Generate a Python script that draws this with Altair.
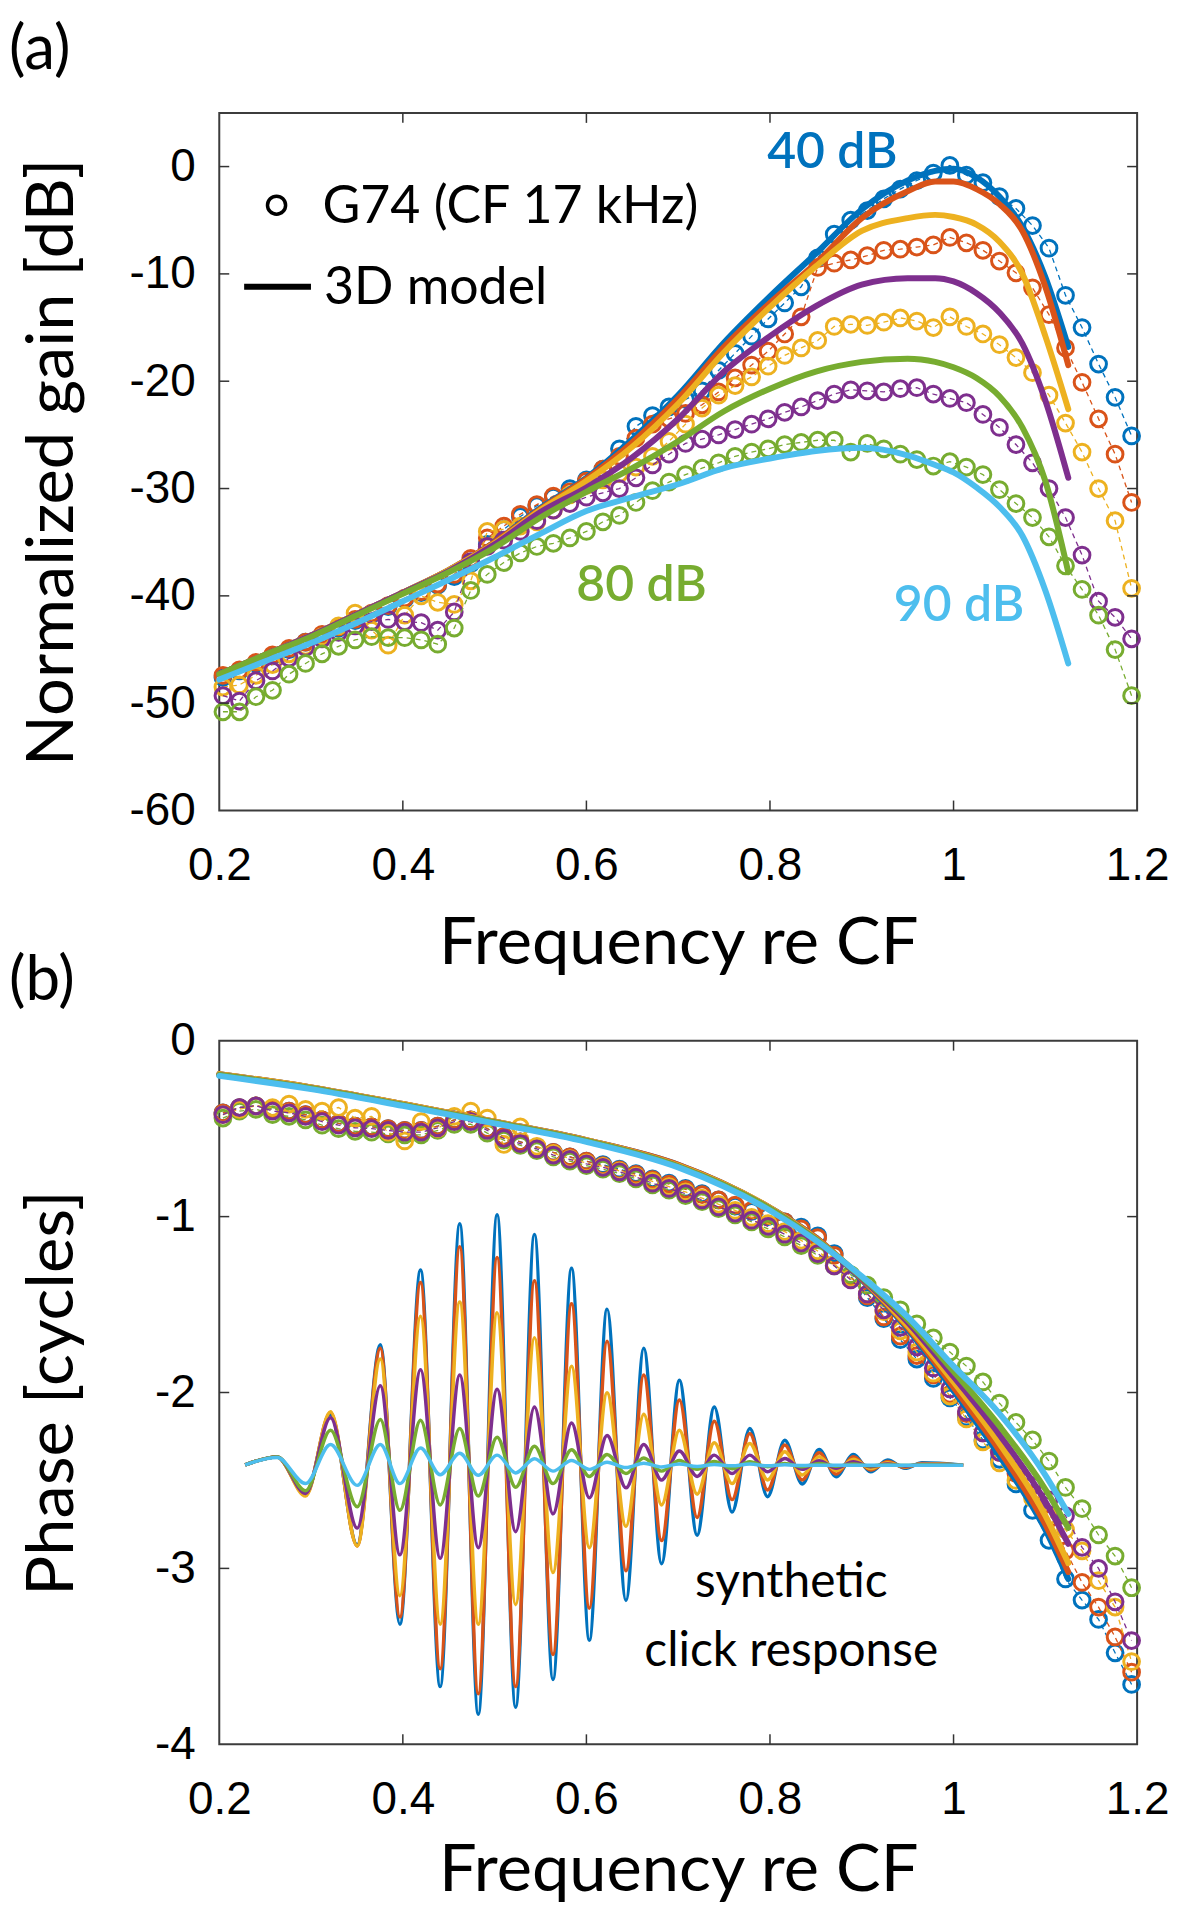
import altair as alt
import pandas as pd

# ---------------- colours (MATLAB default order) ----------------
BLUE, ORANGE, YELLOW, PURPLE, GREEN, CYAN = "#0072BD", "#D95319", "#EDB120", "#7E2F8E", "#77AC30", "#4DBEEE"

# ---------------- measured data (circles) ----------------
FREQ = [0.204, 0.222, 0.240, 0.258, 0.276, 0.294, 0.312, 0.330, 0.348, 0.366, 0.384, 0.402, 0.420, 0.438,
        0.456, 0.474, 0.492, 0.510, 0.528, 0.546, 0.564, 0.582, 0.600, 0.618, 0.636, 0.654, 0.672, 0.690,
        0.708, 0.726, 0.744, 0.762, 0.780, 0.798, 0.816, 0.834, 0.852, 0.870, 0.888, 0.906, 0.924, 0.942,
        0.960, 0.978, 0.996, 1.014, 1.032, 1.050, 1.068, 1.086, 1.104, 1.122, 1.140, 1.158, 1.176, 1.194]

GAIN_40 = [-47.6, -47.0, -46.3, -45.6, -45.0, -44.3, -43.7, -43.0, -42.3, -41.7, -41.0, -40.3, -39.7, -39.0, -38.2,
           -37.0, -35.2, -33.8, -32.6, -31.6, -30.8, -30.0, -29.2, -28.2, -26.3, -24.2, -23.2, -22.4, -21.7, -20.9,
           -19.0, -17.4, -15.8, -14.2, -12.7, -11.2, -8.5, -6.3, -5.0, -4.1, -3.0, -2.1, -1.3, -0.6, 0.1,
           -0.8, -1.5, -2.8, -3.9, -5.5, -7.6, -12.0, -15.0, -18.4, -21.5, -25.1]
GAIN_50 = [-47.4, -46.9, -46.2, -45.5, -44.9, -44.3, -43.6, -42.9, -42.2, -41.6, -40.9, -40.2, -39.6, -38.9, -38.0,
           -36.5, -34.6, -33.5, -32.4, -31.5, -30.7, -30.3, -29.3, -28.2, -27.0, -25.3, -24.0, -23.5, -23.0, -22.2,
           -21.0, -19.7, -18.5, -17.2, -15.6, -14.0, -9.4, -9.0, -8.7, -8.3, -7.8, -7.7, -7.5, -7.3, -6.6,
           -7.1, -7.8, -8.8, -9.9, -11.3, -13.8, -16.9, -20.1, -23.5, -26.8, -31.3]
GAIN_60 = [-48.5, -48.3, -47.4, -46.4, -45.4, -44.7, -43.8, -42.8, -41.6, -43.2, -44.6, -41.8, -40.0, -40.6, -40.8,
           -38.6, -34.0, -33.8, -33.5, -33.1, -32.0, -30.6, -29.7, -29.2, -28.6, -28.0, -27.0, -25.6, -24.0, -22.5,
           -21.3, -20.4, -19.6, -18.6, -17.6, -16.9, -16.2, -14.9, -14.7, -14.8, -14.5, -14.1, -14.4, -15.0, -14.0,
           -14.9, -15.6, -16.6, -17.8, -19.2, -21.3, -23.9, -26.6, -30.0, -33.0, -39.3]
GAIN_70 = [-49.3, -49.8, -47.9, -47.0, -45.8, -44.8, -44.0, -43.4, -42.8, -42.4, -42.2, -42.4, -42.5, -43.2, -41.5,
           -36.8, -35.4, -34.8, -34.0, -33.0, -32.0, -31.4, -30.8, -30.4, -30.0, -29.0, -27.8, -26.8, -25.8, -25.4,
           -25.0, -24.5, -24.0, -23.5, -22.9, -22.4, -21.8, -21.2, -20.8, -20.9, -21.0, -20.7, -20.6, -21.2, -21.6,
           -22.0, -23.1, -24.3, -25.9, -27.6, -30.0, -32.7, -36.2, -40.5, -42.0, -44.0]
GAIN_80 = [-50.8, -50.8, -49.4, -48.8, -47.3, -46.3, -45.4, -44.7, -44.1, -43.8, -43.9, -43.9, -44.1, -44.5, -43.0,
           -39.5, -38.0, -36.9, -36.0, -35.4, -35.1, -34.6, -34.0, -33.1, -32.5, -31.3, -30.2, -29.4, -28.7, -28.1,
           -27.6, -27.0, -26.6, -26.3, -25.9, -25.7, -25.5, -25.5, -26.6, -25.8, -26.3, -26.8, -27.3, -27.9, -27.5,
           -28.0, -28.7, -30.1, -31.4, -32.7, -34.5, -37.2, -39.4, -41.8, -45.0, -49.3]

PHASE_40 = [-0.41, -0.38, -0.37, -0.39, -0.40, -0.42, -0.45, -0.47, -0.485, -0.49, -0.50, -0.51, -0.51, -0.485, -0.45,
            -0.45, -0.50, -0.545, -0.575, -0.605, -0.635, -0.66, -0.685, -0.705, -0.73, -0.755, -0.785, -0.81, -0.84, -0.87,
            -0.905, -0.94, -0.97, -1.00, -1.03, -1.06, -1.11, -1.21, -1.34, -1.46, -1.58, -1.70, -1.81, -1.92, -2.03,
            -2.14, -2.27, -2.38, -2.52, -2.67, -2.84, -3.06, -3.18, -3.29, -3.48, -3.66]
PHASE_50 = [-0.41, -0.38, -0.37, -0.39, -0.40, -0.42, -0.45, -0.47, -0.485, -0.49, -0.50, -0.51, -0.51, -0.485, -0.45,
            -0.45, -0.50, -0.545, -0.575, -0.605, -0.635, -0.66, -0.685, -0.71, -0.735, -0.76, -0.79, -0.815, -0.845, -0.875,
            -0.905, -0.935, -0.965, -0.995, -1.03, -1.07, -1.12, -1.22, -1.34, -1.45, -1.57, -1.68, -1.79, -1.90, -2.01,
            -2.12, -2.23, -2.34, -2.46, -2.58, -2.72, -2.90, -3.08, -3.22, -3.39, -3.59]
PHASE_60 = [-0.42, -0.39, -0.37, -0.38, -0.36, -0.39, -0.40, -0.38, -0.44, -0.43, -0.52, -0.57, -0.46, -0.50, -0.43,
            -0.40, -0.44, -0.59, -0.49, -0.60, -0.64, -0.67, -0.695, -0.715, -0.74, -0.77, -0.80, -0.83, -0.86, -0.895,
            -0.93, -0.965, -1.005, -1.04, -1.085, -1.135, -1.195, -1.27, -1.35, -1.44, -1.54, -1.65, -1.77, -1.89, -2.02,
            -2.15, -2.28, -2.40, -2.50, -2.60, -2.70, -2.78, -2.90, -3.07, -3.22, -3.53]
PHASE_70 = [-0.42, -0.38, -0.37, -0.40, -0.41, -0.43, -0.46, -0.48, -0.495, -0.50, -0.51, -0.52, -0.52, -0.495, -0.46,
            -0.46, -0.51, -0.555, -0.585, -0.615, -0.65, -0.675, -0.70, -0.72, -0.745, -0.775, -0.81, -0.84, -0.87, -0.905,
            -0.945, -0.98, -1.02, -1.055, -1.10, -1.15, -1.21, -1.28, -1.36, -1.44, -1.53, -1.63, -1.74, -1.86, -1.98,
            -2.11, -2.23, -2.34, -2.44, -2.53, -2.61, -2.70, -2.88, -3.00, -3.19, -3.41]
PHASE_80 = [-0.44, -0.40, -0.39, -0.42, -0.43, -0.45, -0.48, -0.50, -0.515, -0.52, -0.53, -0.535, -0.535, -0.51, -0.475,
            -0.475, -0.525, -0.565, -0.595, -0.625, -0.66, -0.685, -0.71, -0.73, -0.755, -0.785, -0.82, -0.85, -0.88, -0.915,
            -0.955, -0.99, -1.03, -1.07, -1.115, -1.165, -1.22, -1.28, -1.33, -1.39, -1.46, -1.53, -1.61, -1.69, -1.77,
            -1.85, -1.94, -2.06, -2.17, -2.27, -2.39, -2.54, -2.66, -2.81, -2.93, -3.11]

# ---------------- 3D model curves ----------------
MODEL_F = [0.2, 0.25, 0.3, 0.35, 0.4, 0.45, 0.5, 0.55, 0.6, 0.65, 0.7, 0.75, 0.8, 0.85, 0.9, 0.95,
           0.98, 1.0, 1.025, 1.05, 1.075, 1.1, 1.125]
MGAIN_40 = [-47.3, -45.5, -43.7, -41.7, -39.7, -37.6, -35.0, -31.8, -29.0, -25.4, -21.3, -16.4, -12.1, -8.1, -4.0, -1.3,
            -0.4, -0.2, -1.0, -2.8, -5.6, -10.3, -16.8]
MGAIN_50 = [-47.3, -45.5, -43.7, -41.7, -39.7, -37.6, -35.0, -31.9, -29.1, -25.7, -21.6, -16.8, -12.7, -9.0, -4.8, -2.3,
            -1.4, -1.4, -2.1, -3.5, -6.0, -11.2, -18.5]
MGAIN_60 = [-47.3, -45.5, -43.7, -41.7, -39.7, -37.6, -35.1, -32.0, -29.3, -26.1, -22.1, -17.3, -13.1, -9.3, -6.0, -4.8,
            -4.5, -4.7, -5.4, -7.0, -10.0, -15.8, -22.6]
MGAIN_70 = [-47.3, -45.5, -43.7, -41.7, -39.7, -37.7, -35.2, -32.2, -29.9, -27.1, -23.5, -19.1, -15.8, -13.0, -11.0, -10.4,
            -10.4, -10.7, -11.8, -13.6, -16.5, -21.8, -29.0]
MGAIN_80 = [-47.3, -45.5, -43.8, -41.8, -39.8, -37.8, -35.5, -32.7, -30.3, -28.1, -25.6, -22.8, -20.7, -19.1, -18.2, -17.9,
            -18.2, -18.7, -19.7, -21.4, -24.3, -29.3, -37.8]
MGAIN_90 = [-47.8, -46.1, -44.4, -42.5, -40.5, -38.5, -36.4, -34.2, -32.1, -30.8, -29.6, -28.1, -27.2, -26.5, -26.2, -26.9,
            -27.8, -28.5, -29.9, -31.7, -34.4, -39.5, -46.3]

MODEL_PF = [0.2, 0.3, 0.4, 0.5, 0.6, 0.7, 0.8, 0.85, 0.9, 0.95, 1.0, 1.05, 1.1, 1.125]
MPHASE_40 = [-0.19, -0.265, -0.36, -0.46, -0.565, -0.705, -0.95, -1.12, -1.36, -1.64, -1.99, -2.36, -2.78, -3.06]
MPHASE_50 = [-0.19, -0.265, -0.36, -0.46, -0.565, -0.705, -0.95, -1.12, -1.355, -1.63, -1.97, -2.33, -2.75, -3.02]
MPHASE_60 = [-0.19, -0.265, -0.36, -0.46, -0.565, -0.71, -0.95, -1.125, -1.35, -1.62, -1.94, -2.29, -2.70, -2.97]
MPHASE_70 = [-0.195, -0.27, -0.365, -0.465, -0.57, -0.715, -0.955, -1.13, -1.35, -1.60, -1.91, -2.24, -2.62, -2.86]
MPHASE_80 = [-0.195, -0.27, -0.365, -0.465, -0.57, -0.715, -0.955, -1.13, -1.345, -1.585, -1.88, -2.19, -2.55, -2.77]
MPHASE_90 = [-0.20, -0.275, -0.37, -0.47, -0.575, -0.72, -0.965, -1.135, -1.34, -1.57, -1.85, -2.12, -2.47, -2.69]

# ---------------- synthetic click response (extrema) ----------------
CLICK_X = [0.2282, 0.2631, 0.2941, 0.3212, 0.3503, 0.3755, 0.3968, 0.4193, 0.4407, 0.4620, 0.4822, 0.5027,
           0.5229, 0.5434, 0.5636, 0.5838, 0.6032, 0.6225, 0.6431, 0.6625, 0.6819, 0.7013, 0.7206, 0.7393,
           0.7587, 0.7780, 0.7974, 0.8161, 0.8352, 0.8535, 0.8721, 0.8909, 0.9096, 0.9282, 0.9470, 0.9656, 1.0105]
CLICK_40 = [-2.411, -2.366, -2.578, -2.123, -2.866, -1.728, -3.317, -1.303, -3.672, -1.040, -3.829, -0.990,
            -3.789, -1.101, -3.631, -1.293, -3.408, -1.526, -3.182, -1.749, -2.973, -1.931, -2.811, -2.083,
            -2.680, -2.205, -2.592, -2.271, -2.520, -2.324, -2.479, -2.352, -2.451, -2.384, -2.431, -2.400, -2.413]
CLICK_50 = [-2.411, -2.366, -2.582, -2.113, -2.872, -1.749, -3.277, -1.374, -3.570, -1.172, -3.712, -1.233,
            -3.672, -1.364, -3.489, -1.496, -3.226, -1.708, -3.014, -1.900, -2.842, -2.042, -2.710, -2.164,
            -2.609, -2.233, -2.554, -2.299, -2.497, -2.343, -2.464, -2.365, -2.441, -2.392, -2.426, -2.403, -2.413]
CLICK_60 = [-2.411, -2.366, -2.589, -2.109, -2.872, -1.809, -3.155, -1.567, -3.317, -1.486, -3.317, -1.546,
            -3.206, -1.688, -3.024, -1.850, -2.882, -2.002, -2.761, -2.123, -2.639, -2.214, -2.578, -2.285,
            -2.518, -2.290, -2.497, -2.337, -2.469, -2.365, -2.445, -2.379, -2.432, -2.399, -2.422, -2.405, -2.413]
CLICK_70 = [-2.411, -2.366, -2.574, -2.143, -2.771, -1.961, -2.923, -1.870, -2.943, -1.900, -2.882, -1.981,
            -2.791, -2.083, -2.690, -2.174, -2.599, -2.245, -2.542, -2.295, -2.498, -2.332, -2.477, -2.356,
            -2.461, -2.356, -2.451, -2.375, -2.437, -2.388, -2.430, -2.394, -2.422, -2.407, -2.419, -2.408, -2.413]
CLICK_80 = [-2.411, -2.366, -2.558, -2.214, -2.649, -2.153, -2.670, -2.158, -2.639, -2.204, -2.589, -2.255,
            -2.538, -2.305, -2.518, -2.326, -2.477, -2.352, -2.461, -2.372, -2.447, -2.386, -2.437, -2.392,
            -2.433, -2.394, -2.422, -2.403, -2.422, -2.403, -2.419, -2.407, -2.417, -2.411, -2.415, -2.411, -2.413]
CLICK_90 = [-2.411, -2.370, -2.518, -2.295, -2.528, -2.295, -2.518, -2.315, -2.467, -2.346, -2.471, -2.356,
            -2.457, -2.376, -2.447, -2.386, -2.437, -2.396, -2.427, -2.402, -2.423, -2.406, -2.421, -2.409,
            -2.417, -2.407, -2.417, -2.411, -2.415, -2.413, -2.413, -2.413, -2.413, -2.413, -2.413, -2.413, -2.413]

# ---------------- axes ----------------
X_TICKS = [0.2, 0.4, 0.6, 0.8, 1, 1.2]
X_INNER = [0.4, 0.6, 0.8, 1]
YA_TICKS = [-60, -50, -40, -30, -20, -10, 0]
YA_INNER = [-50, -40, -30, -20, -10, 0]
YB_TICKS = [-4, -3, -2, -1, 0]
YB_INNER = [-3, -2, -1]

LABEL_FONT = "Liberation Sans"
TEXT_FONT = "Lato"
W, HA, HB = 921, 700, 706

xscale = alt.Scale(domain=[0.2, 1.2], nice=False, zero=False)
ya_scale = alt.Scale(domain=[-60, 5], nice=False, zero=False)
yb_scale = alt.Scale(domain=[-4, 0], nice=False, zero=False)

common_axis = dict(ticks=False, tickSize=0, domain=False, grid=False, labelFont=LABEL_FONT, labelFontSize=46,
                   labelColor="black", titleFont=TEXT_FONT, titleFontSize=67, titleFontWeight="normal",
                   titleColor="black", labelExpr="'' + datum.value", labelOverlap=False, labelFlush=False,
                   titleBaseline="alphabetic")


def xaxis(title_y):
    return alt.Axis(values=X_TICKS, title="Frequency re CF", labelPadding=33, titleY=title_y, **common_axis)


def yaxis(values, title):
    return alt.Axis(values=values, title=title, labelPadding=24, titleX=-147, **common_axis)


def build_panel(yscale, xax, yax):
    def E():
        return dict(x=alt.X("f:Q", scale=xscale, axis=xax), y=alt.Y("v:Q", scale=yscale, axis=yax))
    return E


def df(xs, ys):
    return pd.DataFrame({"f": xs, "v": ys})


def data_layers(E, ys, col):
    d = df(FREQ, ys)
    return [
        alt.Chart(d).mark_line(color=col, strokeWidth=1.3, strokeDash=[5, 4]).encode(**E()),
        alt.Chart(d).mark_point(shape="circle", filled=False, color=col, size=250, strokeWidth=3.0,
                                opacity=1).encode(**E()),
    ]


def tick_layers(h, yscale_, xax, yax, xin, yin):
    xd = pd.DataFrame({"f": xin})
    yd = pd.DataFrame({"v": yin})
    style = dict(color="#333333", strokeWidth=1.5)
    xe = alt.X("f:Q", scale=xscale, axis=xax)
    ye = alt.Y("v:Q", scale=yscale_, axis=yax)
    return [
        alt.Chart(xd).mark_rule(**style).encode(x=xe, y=alt.value(h), y2=alt.value(h - 10)),
        alt.Chart(xd).mark_rule(**style).encode(x=xe, y=alt.value(0), y2=alt.value(10)),
        alt.Chart(yd).mark_rule(**style).encode(y=ye, x=alt.value(0), x2=alt.value(10)),
        alt.Chart(yd).mark_rule(**style).encode(y=ye, x=alt.value(W - 10), x2=alt.value(W)),
    ]


def label(E, f, v, t, color, size, weight="normal", align="center"):
    d = pd.DataFrame({"f": [f], "v": [v], "t": [t]})
    return alt.Chart(d).mark_text(font=TEXT_FONT, fontSize=size, fontWeight=weight, color=color, align=align,
                                  baseline="alphabetic").encode(text="t:N", **E())


def panel_letter(t, y, baseline):
    d = pd.DataFrame({"t": [t]})
    return alt.Chart(d).mark_text(font=TEXT_FONT, fontSize=62, color="black", align="left",
                                  baseline=baseline).encode(text="t:N", x=alt.value(-211), y=alt.value(y))


# ---------------- panel (a) ----------------
xa = xaxis(154)
ya = yaxis(YA_TICKS, "Normalized gain [dB]")
EA = build_panel(ya_scale, xa, ya)

layers_a = []
for ys, col in [(GAIN_40, BLUE), (GAIN_50, ORANGE), (GAIN_60, YELLOW), (GAIN_70, PURPLE), (GAIN_80, GREEN)]:
    layers_a += data_layers(EA, ys, col)
for ys, col in [(MGAIN_40, BLUE), (MGAIN_50, ORANGE), (MGAIN_60, YELLOW), (MGAIN_70, PURPLE),
                (MGAIN_80, GREEN), (MGAIN_90, CYAN)]:
    layers_a.append(alt.Chart(df(MODEL_F, ys)).mark_line(color=col, strokeWidth=6, interpolate="monotone",
                                                         strokeCap="round").encode(**EA()))
layers_a += tick_layers(HA, ya_scale, xa, ya, X_INNER, YA_INNER)

# legend
leg_pt = pd.DataFrame({"f": [0.2624], "v": [-3.6]})
layers_a.append(alt.Chart(leg_pt).mark_point(shape="circle", filled=False, color="black", size=330, strokeWidth=3.5,
                                             opacity=1).encode(**EA()))
leg_ln = pd.DataFrame({"f": [0.2271], "f2": [0.2999], "v": [-11.2]})
layers_a.append(alt.Chart(leg_ln).mark_rule(color="black", strokeWidth=6).encode(x2="f2:Q", **EA()))
layers_a.append(label(EA, 0.3124, -5.25, "G74 (CF 17 kHz)", "black", 52, align="left"))
layers_a.append(label(EA, 0.314, -12.8, "3D model", "black", 52, align="left"))
layers_a.append(label(EA, 0.868, -0.1, "40 dB", BLUE, 50, weight=600))
layers_a.append(label(EA, 0.660, -40.5, "80 dB", GREEN, 50, weight=600))
layers_a.append(label(EA, 1.006, -42.35, "90 dB", CYAN, 50, weight=600))
layers_a.append(panel_letter("(a)", -93, "top"))

panel_a = alt.layer(*layers_a).properties(width=W, height=HA)

# ---------------- panel (b) ----------------
xb = xaxis(147)
yb = yaxis(YB_TICKS, "Phase [cycles]")
EB = build_panel(yb_scale, xb, yb)

layers_b = []
for ys, col in [(CLICK_40, BLUE), (CLICK_50, ORANGE), (CLICK_60, YELLOW), (CLICK_70, PURPLE),
                (CLICK_80, GREEN), (CLICK_90, CYAN)]:
    layers_b.append(alt.Chart(df(CLICK_X, ys)).mark_line(color=col, strokeWidth=3.5,
                                                         interpolate="monotone").encode(**EB()))
for ys, col in [(PHASE_40, BLUE), (PHASE_50, ORANGE), (PHASE_80, GREEN), (PHASE_60, YELLOW), (PHASE_70, PURPLE)]:
    layers_b += data_layers(EB, ys, col)
for ys, col in [(MPHASE_40, BLUE), (MPHASE_50, ORANGE), (MPHASE_60, YELLOW), (MPHASE_70, PURPLE),
                (MPHASE_80, GREEN), (MPHASE_90, CYAN)]:
    layers_b.append(alt.Chart(df(MODEL_PF, ys)).mark_line(color=col, strokeWidth=6, interpolate="monotone",
                                                          strokeCap="round").encode(**EB()))
layers_b += tick_layers(HB, yb_scale, xb, yb, X_INNER, YB_INNER)
layers_b.append(label(EB, 0.8232, -3.161, "synthetic", "black", 48))
layers_b.append(label(EB, 0.8232, -3.557, "click response", "black", 48))
layers_b.append(panel_letter("(b)", -41, "alphabetic"))

panel_b = alt.layer(*layers_b).properties(width=W, height=HB)

chart = alt.vconcat(panel_a, panel_b, spacing=231, bounds="flush").properties(
    padding={"left": 0, "top": 7, "right": 0, "bottom": 0}
).configure_view(stroke="#3c3c3c", strokeWidth=2)

chart.save("out.html", embed_options={"renderer": "svg", "actions": False})
